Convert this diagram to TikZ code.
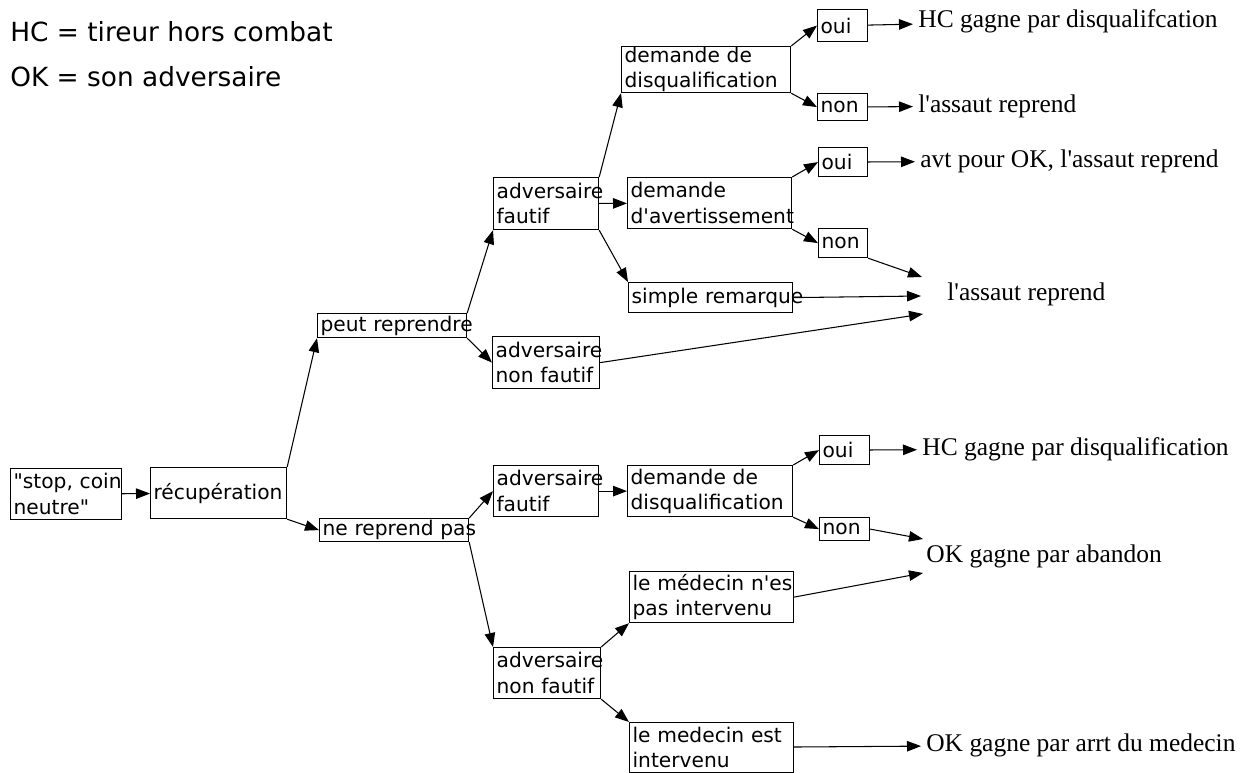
\documentclass[tikz,border=0pt]{standalone}
\usepackage{fontspec}
\setmainfont{Liberation Serif}
\setsansfont{DejaVu Sans}
\usepackage{tikz}
\usetikzlibrary{positioning,arrows.meta}

\begin{document}
\begin{tikzpicture}[x=0.02cm,y=-0.02cm,
  case/.style={draw,line width=0.7pt,anchor=north west,align=left,inner xsep=0.06cm,inner ysep=0pt,font=\sffamily\fontsize{11.5}{14.4}\selectfont},
  issue/.style={anchor=west,inner xsep=0.1cm,inner ysep=0pt,font=\fontsize{14.5}{16}\selectfont},
  legend/.style={anchor=base west,inner sep=0pt,font=\sffamily\fontsize{15}{18}\selectfont},
  arr/.style={draw,line width=0.6pt,-{Triangle[length=2.8mm,width=2.1mm]}}]
\useasboundingbox (0,0) rectangle (1259,773);

\node[legend] (hcdef) at (10,42) {HC = tireur hors combat};
\node[legend] (okdef) at (10,87) {OK = son adversaire};

% boxes
\node[case,text width=2.1cm,minimum height=1.02cm] (stop) at (10,468) {\mbox{\textquotedbl stop, coin}\\\mbox{neutre\textquotedbl}};
\node[case,text width=2.6cm,minimum height=1.02cm] (recup) at (150,467) {\mbox{récupération}};
\node[case,text width=2.86cm,minimum height=0.48cm] (peut) at (317,313) {\mbox{peut reprendre}};
\node[case,text width=2.86cm,minimum height=0.46cm] (ne) at (319,518) {\mbox{ne reprend pas}};

\node[case,text width=1.98cm,minimum height=1.04cm] (advF1) at (493,177) {\mbox{adversaire}\\\mbox{fautif}};
\node[case,text width=2.02cm,minimum height=1.04cm] (advNF1) at (492,336) {\mbox{adversaire}\\\mbox{non fautif}};
\node[case,text width=1.98cm,minimum height=1.02cm] (advF2) at (493,465) {\mbox{adversaire}\\\mbox{fautif}};
\node[case,text width=2.02cm,minimum height=1.02cm] (advNF2) at (493,647) {\mbox{adversaire}\\\mbox{non fautif}};

\node[case,text width=3.26cm,minimum height=0.92cm] (dq1) at (621,46) {\mbox{demande de}\\\mbox{disqualification}};
\node[case,text width=3.16cm,minimum height=1.02cm] (dav) at (627,177) {\mbox{demande}\\\mbox{d\textquotesingle avertissement}};
\node[case,text width=3.16cm,minimum height=0.6cm] (rem) at (628,282) {\mbox{simple remarque}};
\node[case,text width=3.18cm,minimum height=1.02cm] (dq2) at (627,465) {\mbox{demande de}\\\mbox{disqualification}};
\node[case,text width=3.16cm,minimum height=1.02cm] (med1) at (629,571) {\mbox{le médecin n\textquotesingle es}\\\mbox{pas intervenu}};
\node[case,text width=3.16cm,minimum height=1.0cm] (med2) at (629,722) {\mbox{le medecin est}\\\mbox{intervenu}};

\node[case,text width=0.88cm,minimum height=0.64cm] (oui1) at (817,9) {oui};
\node[case,text width=0.88cm,minimum height=0.54cm] (non1) at (817,93) {non};
\node[case,text width=0.86cm,minimum height=0.58cm] (oui2) at (818,147) {oui};
\node[case,text width=0.86cm,minimum height=0.58cm] (non2) at (818,228) {non};
\node[case,text width=0.88cm,minimum height=0.58cm] (oui3) at (819,435) {oui};
\node[case,text width=0.88cm,minimum height=0.46cm] (non3) at (819,517) {non};

% outcomes
\node[issue] (hc1) at (913,21) {HC gagne par disqualifcation};
\node[issue] (rep1) at (913,106) {l\textquotesingle assaut reprend};
\node[issue] (avt) at (915,161) {avt pour OK, l\textquotesingle assaut reprend};
\node[issue,inner xsep=0pt] (rep2) at (947,294) {l\textquotesingle assaut reprend};
\node[issue] (hc2) at (917,449) {HC gagne par disqualification};
\node[issue,inner xsep=0pt] (aband) at (926,556) {OK gagne par abandon};
\node[issue] (arret) at (921,745) {OK gagne par arrt du medecin};
\coordinate (a1) at (922,277);
\coordinate (a2) at (921,296);
\coordinate (a3) at (923,314);
\coordinate (b1) at (923,539);
\coordinate (b2) at (923,573);

% connectors
\draw[arr] (stop) -- (recup);
\draw[arr] (recup.north east) -- (peut.south west);
\draw[arr] (recup.south east) -- (ne.west);
\draw[arr] (peut.north east) -- (advF1.south west);
\draw[arr] (peut.south east) -- (advNF1.west);
\draw[arr] (advF1.north east) -- (dq1.south west);
\draw[arr] (advF1) -- (dav);
\draw[arr] (advF1.south east) -- (rem.north west);
\draw[arr] (dq1.north east) -- (oui1.west);
\draw[arr] (dq1.south east) -- (non1.west);
\draw[arr] (oui1) -- (hc1);
\draw[arr] (non1) -- (rep1);
\draw[arr] (dav.north east) -- (oui2.west);
\draw[arr] (dav.south east) -- (non2.west);
\draw[arr] (oui2) -- (avt);
\draw[arr] (non2.south east) -- (a1);
\draw[arr] (rem.east) -- (a2);
\draw[arr] (advNF1.east) -- (a3);

\draw[arr] (ne.north east) -- (advF2.west);
\draw[arr] (ne.south east) -- (advNF2.north west);
\draw[arr] (advF2) -- (dq2);
\draw[arr] (dq2.north east) -- (oui3.west);
\draw[arr] (dq2.south east) -- (non3.west);
\draw[arr] (oui3) -- (hc2);
\draw[arr] (non3.east) -- (b1);
\draw[arr] (med1.east) -- (b2);
\draw[arr] (advNF2.north east) -- (med1.south west);
\draw[arr] (advNF2.south east) -- (med2.north west);
\draw[arr] (med2) -- (arret);
\end{tikzpicture}
\end{document}
